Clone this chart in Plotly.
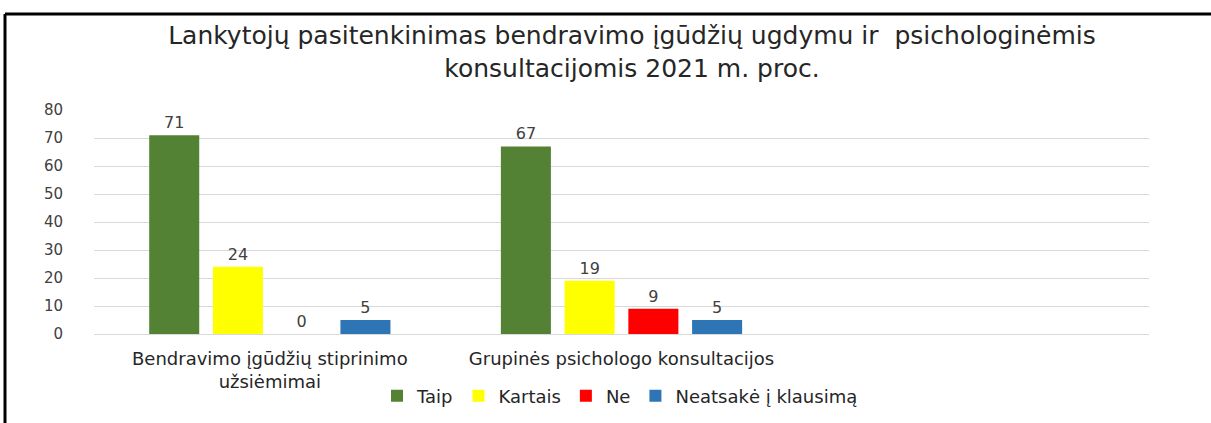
import plotly.graph_objects as go

categories = ["Bendravimo įgūdžių stiprinimo<br>užsiėmimai", "Grupinės psichologo konsultacijos", " "]
series_names = ["Taip", "Kartais", "Ne", "Neatsakė į klausimą"]
taip = [71, 67, None]
kartais = [24, 19, None]
ne = [0, 9, None]
neatsake = [5, 5, None]
colors = ["#548235", "#FFFF00", "#FF0000", "#2E75B6"]
y_ticks = [0, 10, 20, 30, 40, 50, 60, 70, 80]

FONT = "DejaVu Sans"
L, R, T, B = 94, 62, 110, 89
W, H = 1211, 423
pw, ph = W - L - R, H - T - B

fig = go.Figure()
for name, vals, col in zip(series_names, [taip, kartais, ne, neatsake], colors):
    fig.add_trace(go.Bar(
        x=categories, y=vals, name=name, marker_color=col, marker_line_width=0,
        text=[("" if v is None else str(v)) for v in vals], textposition="outside",
        textfont=dict(family=FONT, size=16, color="#404040"), cliponaxis=False,
    ))

fig.update_layout(
    width=W, height=H,
    margin=dict(l=L, r=R, t=T, b=B, autoexpand=False),
    paper_bgcolor="white", plot_bgcolor="white",
    barmode="group", bargap=0.275, bargroupgap=0.215,
    title=dict(
        text="Lankytojų pasitenkinimas bendravimo įgūdžių ugdymu ir  psichologinėmis<br>konsultacijomis 2021 m. proc.",
        x=632 / W, xanchor="center", yref="container", y=1 - 44 / H, yanchor="top",
        font=dict(family=FONT, size=25, color="#262626"),
    ),
    font=dict(family=FONT, size=16, color="#404040"),
    legend=dict(orientation="h", x=620 / W, xanchor="center", xref="container",
                yref="container", y=(H - 396) / H, yanchor="middle",
                font=dict(family=FONT, size=18, color="#262626"), traceorder="normal"),
    yaxis=dict(range=[0, 80], tickvals=y_ticks, showgrid=True, gridcolor="#D9D9D9",
               gridwidth=1, zeroline=False, showline=False, ticklabelstandoff=30, automargin=False,
               tickfont=dict(family=FONT, size=15, color="#404040")),
    xaxis=dict(showline=True, linecolor="#D9D9D9", linewidth=1, ticks="", automargin=False,
               ticklabelstandoff=8,
               tickfont=dict(family=FONT, size=18, color="#262626")),
    showlegend=True,
    shapes=[
        dict(type="line", xref="paper", yref="paper", x0=(5 - L) / pw, x1=(W + 20 - L) / pw,
             y0=(H - B - 14) / ph, y1=(H - B - 14) / ph, line=dict(color="black", width=3)),
        dict(type="line", xref="paper", yref="paper", x0=(5 - L) / pw, x1=(5 - L) / pw,
             y0=(H - B - 14) / ph, y1=(-B - 20) / ph, line=dict(color="black", width=3)),
    ],
)

fig.write_html("out.html", config={"displayModeBar": False},
               post_script="document.body.style.margin='0px';document.body.style.overflow='hidden';")
